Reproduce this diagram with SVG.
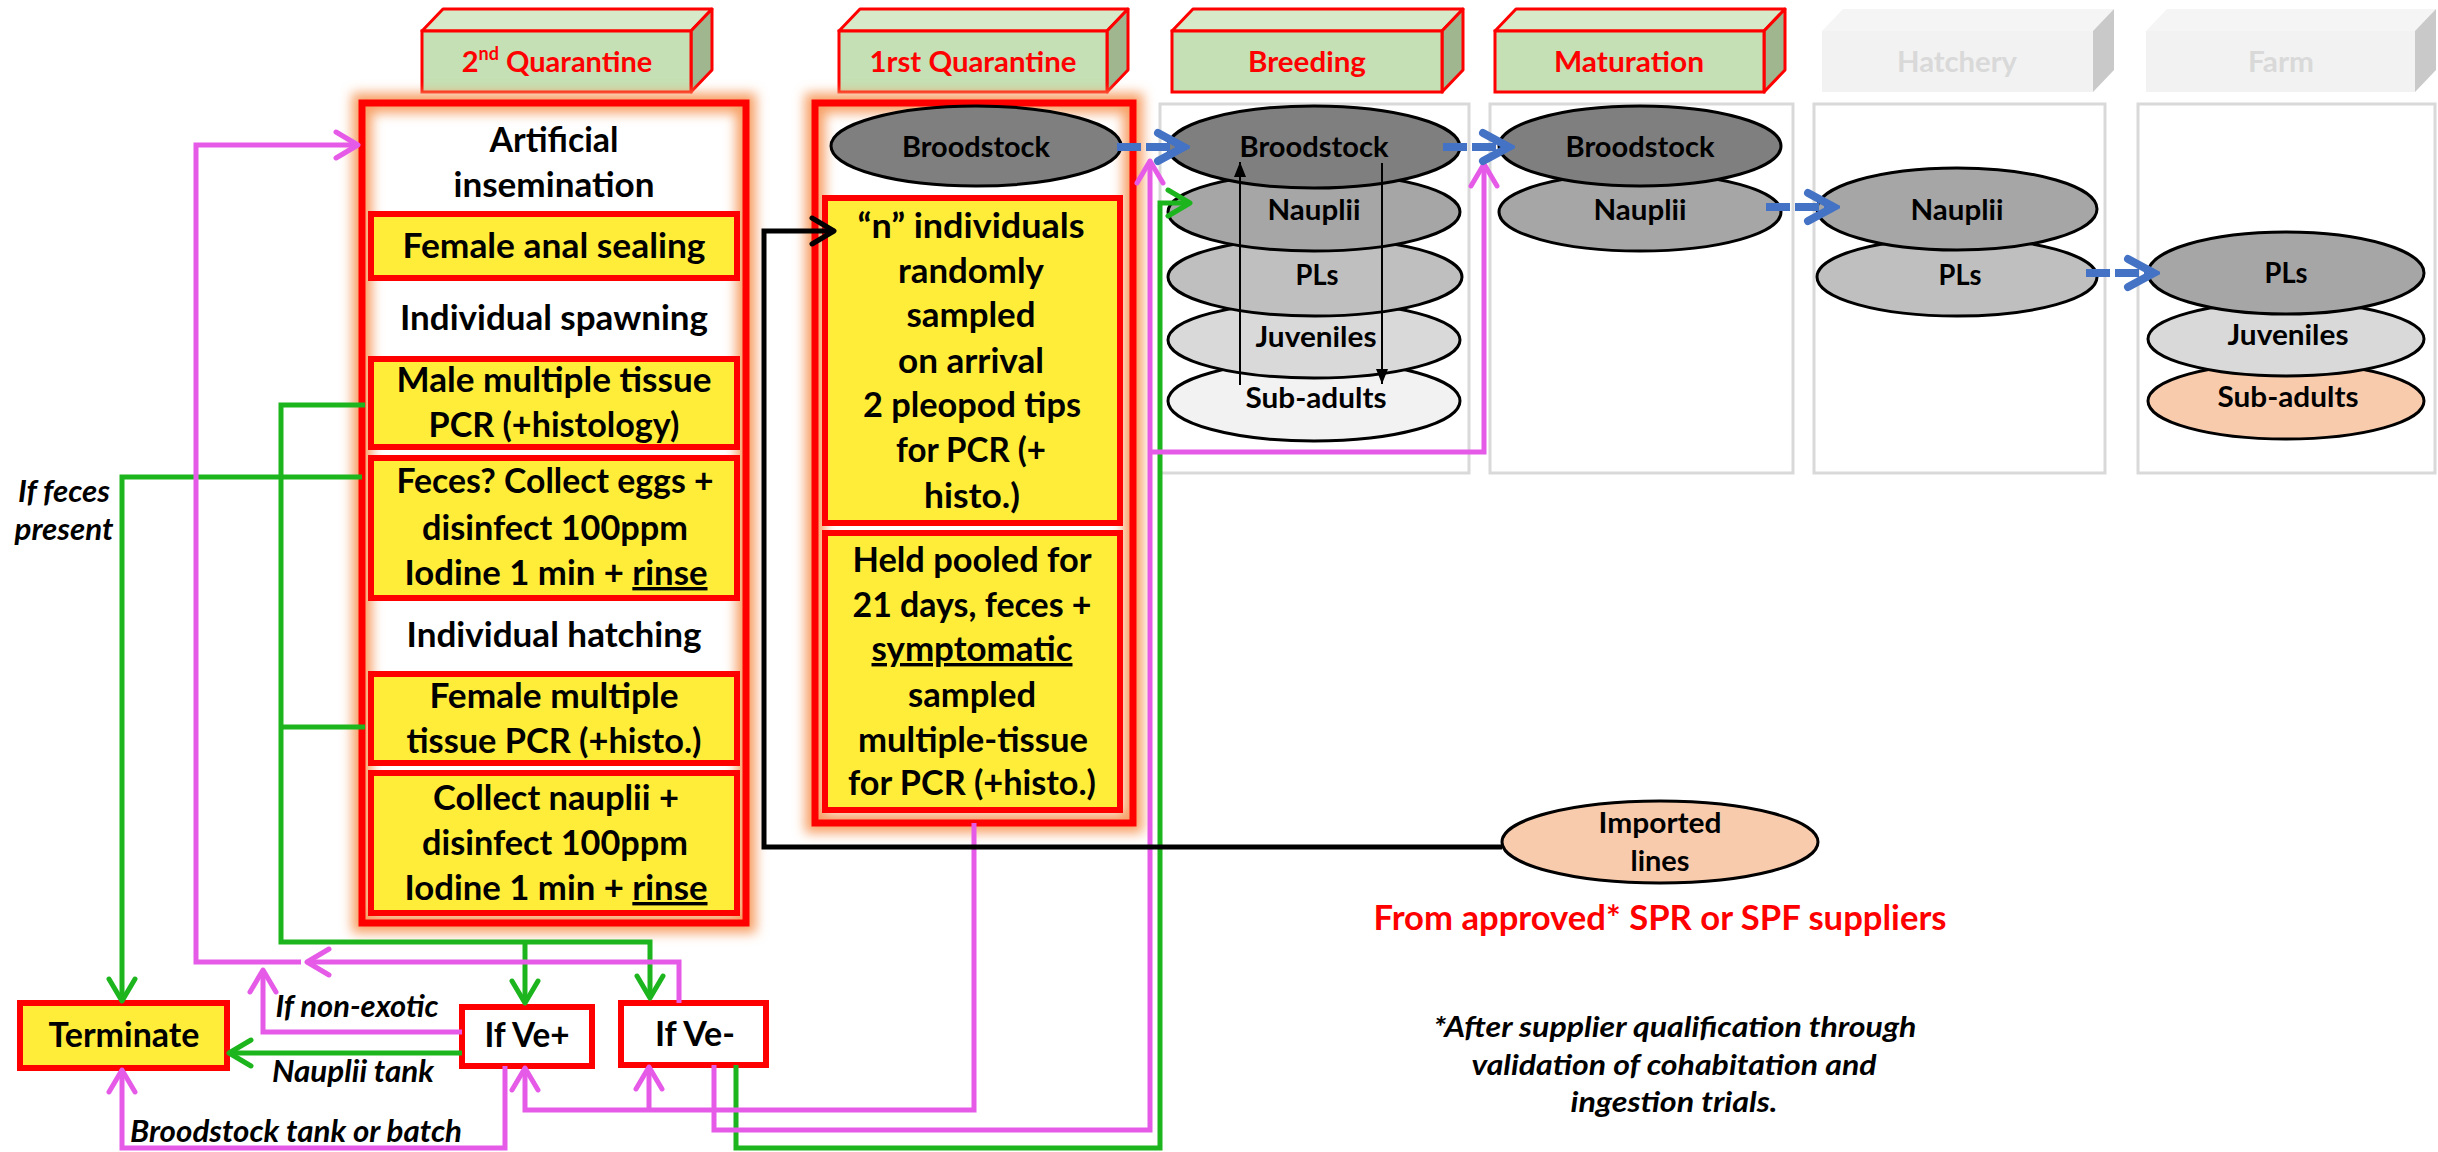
<svg xmlns="http://www.w3.org/2000/svg" width="2438" height="1152" viewBox="0 0 2438 1152">
<defs>
<style>
.t{font-family:Lato,'Liberation Sans',sans-serif;font-weight:bold;fill:#000;text-anchor:middle}
.i{font-family:Lato,'Liberation Sans',sans-serif;font-weight:bold;font-style:italic;fill:#000;text-anchor:middle}
.f34{font-size:34px}
.f30{font-size:30px}
.f29{font-size:29px}
.hdr{font-family:Lato,'Liberation Sans',sans-serif;font-weight:bold;font-size:29px;fill:#ff0000;text-anchor:middle}
.hdrg{font-family:Lato,'Liberation Sans',sans-serif;font-weight:bold;font-size:29px;fill:#d9d9d9;text-anchor:middle}
.front{fill:#c5e0b4;stroke:#ff0000;stroke-width:3}
.top{fill:#d6e9c9;stroke:#ff0000;stroke-width:3;stroke-linejoin:round}
.side{fill:#9fb68f;stroke:#ff0000;stroke-width:3;stroke-linejoin:round}
.gfront{fill:#f2f2f2}
.gtop{fill:#f5f5f5}
.gside{fill:#c9c9c9}
.frame{fill:none;stroke:#ff0000;stroke-width:7}
.glow{fill:none;stroke:#f7a066;stroke-width:20;filter:url(#blur)}
.ybox{fill:#ffed3a;stroke:#ff0000;stroke-width:6}
.wbox{fill:#fff;stroke:#ff0000;stroke-width:6}
.gframe{fill:none;stroke:#d9d9d9;stroke-width:3}
.el{stroke:#000;stroke-width:3}
.gr{fill:none;stroke:#1db51d;stroke-width:5}
.mg{fill:none;stroke:#e65ae8;stroke-width:5}
.bk{fill:none;stroke:#000;stroke-width:5}
.thin{fill:none;stroke:#000;stroke-width:2}
.bl{fill:none;stroke:#4472c4;stroke-width:8;stroke-dasharray:24 5}
</style>
<filter id="blur" x="-20%" y="-20%" width="140%" height="140%"><feGaussianBlur stdDeviation="6"/></filter>
<marker id="aG" markerUnits="userSpaceOnUse" markerWidth="30" markerHeight="32" viewBox="0 0 30 32" refX="27" refY="16" orient="auto"><path d="M5,3 L27,16 L5,29" fill="none" stroke="#1db51d" stroke-width="5" stroke-linecap="round" stroke-linejoin="round"/></marker>
<marker id="aM" markerUnits="userSpaceOnUse" markerWidth="30" markerHeight="32" viewBox="0 0 30 32" refX="27" refY="16" orient="auto"><path d="M5,3 L27,16 L5,29" fill="none" stroke="#e65ae8" stroke-width="5" stroke-linecap="round" stroke-linejoin="round"/></marker>
<marker id="aK" markerUnits="userSpaceOnUse" markerWidth="30" markerHeight="32" viewBox="0 0 30 32" refX="27" refY="16" orient="auto"><path d="M5,3 L27,16 L5,29" fill="none" stroke="#000" stroke-width="5" stroke-linecap="round" stroke-linejoin="round"/></marker>
<marker id="aB" markerUnits="userSpaceOnUse" markerWidth="40" markerHeight="40" viewBox="0 0 40 40" refX="34" refY="20" orient="auto"><path d="M8,6 L34,20 L8,34" fill="none" stroke="#4472c4" stroke-width="8" stroke-linecap="round" stroke-linejoin="miter"/></marker>
<marker id="aT" markerUnits="userSpaceOnUse" markerWidth="16" markerHeight="14" viewBox="0 0 16 14" refX="15" refY="7" orient="auto"><path d="M0,1 L15,7 L0,13 Z" fill="#000"/></marker>
</defs>
<rect width="2438" height="1152" fill="#fff"/>

<!-- Headers -->
<g id="hdr-2q">
<polygon class="top" points="422,31 443,9 712,9 691,31"/>
<polygon class="side" points="691,31 712,9 712,70 691,92"/>
<rect class="front" x="422" y="31" width="269" height="61"/>
<text class="hdr" x="557" y="72">2<tspan font-size="18" dy="-12">nd</tspan><tspan dy="12"> Quarantine</tspan></text>
</g>
<g id="hdr-1q">
<polygon class="top" points="839,31 860,9 1128,9 1107,31"/>
<polygon class="side" points="1107,31 1128,9 1128,70 1107,92"/>
<rect class="front" x="839" y="31" width="268" height="61"/>
<text class="hdr" x="973" y="72" textLength="207" lengthAdjust="spacingAndGlyphs">1rst Quarantine</text>
</g>
<g id="hdr-breeding">
<polygon class="top" points="1172,31 1193,9 1463,9 1442,31"/>
<polygon class="side" points="1442,31 1463,9 1463,70 1442,92"/>
<rect class="front" x="1172" y="31" width="270" height="61"/>
<text class="hdr" x="1307" y="72" textLength="118" lengthAdjust="spacingAndGlyphs">Breeding</text>
</g>
<g id="hdr-maturation">
<polygon class="top" points="1495,31 1516,9 1785,9 1764,31"/>
<polygon class="side" points="1764,31 1785,9 1785,70 1764,92"/>
<rect class="front" x="1495" y="31" width="269" height="61"/>
<text class="hdr" x="1629" y="72" textLength="150" lengthAdjust="spacingAndGlyphs">Maturation</text>
</g>
<g id="hdr-hatchery">
<polygon class="gtop" points="1822,31 1843,9 2114,9 2093,31"/>
<polygon class="gside" points="2093,31 2114,9 2114,70 2093,92"/>
<rect class="gfront" x="1822" y="31" width="271" height="61"/>
<text class="hdrg" x="1957" y="72" textLength="120" lengthAdjust="spacingAndGlyphs">Hatchery</text>
</g>
<g id="hdr-farm">
<polygon class="gtop" points="2146,31 2167,9 2436,9 2415,31"/>
<polygon class="gside" points="2415,31 2436,9 2436,70 2415,92"/>
<rect class="gfront" x="2146" y="31" width="269" height="61"/>
<text class="hdrg" x="2281" y="72" textLength="66" lengthAdjust="spacingAndGlyphs">Farm</text>
</g>

<!-- Gray stage frames -->
<g id="frame-breeding"><rect class="gframe" x="1160" y="104" width="309" height="369"/></g>
<g id="frame-maturation"><rect class="gframe" x="1490" y="104" width="303" height="369"/></g>
<g id="frame-hatchery"><rect class="gframe" x="1814" y="104" width="291" height="369"/></g>
<g id="frame-farm"><rect class="gframe" x="2138" y="104" width="297" height="369"/></g>

<!-- 2nd Quarantine -->
<g id="q2">
<rect class="glow" x="362" y="103" width="384" height="820"/>
<rect class="frame" x="362" y="103" width="384" height="820"/>
<text class="t f34" x="554" y="152" textLength="129" lengthAdjust="spacingAndGlyphs">Artificial</text>
<text class="t f34" x="554" y="197" textLength="201" lengthAdjust="spacingAndGlyphs">insemination</text>
<rect class="ybox" x="371" y="214" width="366" height="64"/>
<text class="t f34" x="554" y="258" textLength="303" lengthAdjust="spacingAndGlyphs">Female anal sealing</text>
<text class="t f34" x="554" y="330" textLength="308" lengthAdjust="spacingAndGlyphs">Individual spawning</text>
<rect class="ybox" x="371" y="359" width="366" height="88"/>
<text class="t f34" x="554" y="392" textLength="315" lengthAdjust="spacingAndGlyphs">Male multiple tissue</text>
<text class="t f34" x="554" y="437" textLength="251" lengthAdjust="spacingAndGlyphs">PCR (+histology)</text>
<rect class="ybox" x="371" y="458" width="366" height="140"/>
<text class="t f34" x="555" y="493" textLength="317" lengthAdjust="spacingAndGlyphs">Feces? Collect eggs +</text>
<text class="t f34" x="555" y="540" textLength="266" lengthAdjust="spacingAndGlyphs">disinfect 100ppm</text>
<text class="t f34" x="556" y="585" textLength="303" lengthAdjust="spacingAndGlyphs">Iodine 1 min + <tspan text-decoration="underline">rinse</tspan></text>
<text class="t f34" x="554" y="647" textLength="295" lengthAdjust="spacingAndGlyphs">Individual hatching</text>
<rect class="ybox" x="371" y="674" width="366" height="89"/>
<text class="t f34" x="554" y="708" textLength="249" lengthAdjust="spacingAndGlyphs">Female multiple</text>
<text class="t f34" x="554" y="753" textLength="295" lengthAdjust="spacingAndGlyphs">tissue PCR (+histo.)</text>
<rect class="ybox" x="371" y="773" width="366" height="140"/>
<text class="t f34" x="556" y="810" textLength="246" lengthAdjust="spacingAndGlyphs">Collect nauplii +</text>
<text class="t f34" x="555" y="855" textLength="266" lengthAdjust="spacingAndGlyphs">disinfect 100ppm</text>
<text class="t f34" x="556" y="900" textLength="303" lengthAdjust="spacingAndGlyphs">Iodine 1 min + <tspan text-decoration="underline">rinse</tspan></text>
</g>

<!-- 1st Quarantine -->
<g id="q1">
<rect class="glow" x="815" y="103" width="318" height="720"/>
<rect class="frame" x="815" y="103" width="318" height="720"/>
<ellipse class="el" cx="976" cy="146" rx="145" ry="40" fill="#7f7f7f"/>
<text class="t f29" x="976" y="157" textLength="148" lengthAdjust="spacingAndGlyphs">Broodstock</text>
<rect class="ybox" x="825" y="198" width="295" height="325"/>
<text class="t f34" x="971" y="238" textLength="227" lengthAdjust="spacingAndGlyphs">“n” individuals</text>
<text class="t f34" x="971" y="283" textLength="146" lengthAdjust="spacingAndGlyphs">randomly</text>
<text class="t f34" x="971" y="327" textLength="129" lengthAdjust="spacingAndGlyphs">sampled</text>
<text class="t f34" x="971" y="373" textLength="146" lengthAdjust="spacingAndGlyphs">on arrival</text>
<text class="t f34" x="972" y="417" textLength="218" lengthAdjust="spacingAndGlyphs">2 pleopod tips</text>
<text class="t f34" x="971" y="462" textLength="150" lengthAdjust="spacingAndGlyphs">for PCR (+</text>
<text class="t f34" x="972" y="508" textLength="96" lengthAdjust="spacingAndGlyphs">histo.)</text>
<rect class="ybox" x="825" y="533" width="295" height="277"/>
<text class="t f34" x="972" y="572" textLength="239" lengthAdjust="spacingAndGlyphs">Held pooled for</text>
<text class="t f34" x="972" y="617" textLength="239" lengthAdjust="spacingAndGlyphs">21 days, feces +</text>
<text class="t f34" x="972" y="661" textLength="201" lengthAdjust="spacingAndGlyphs" text-decoration="underline">symptomatic</text>
<text class="t f34" x="972" y="707" textLength="128" lengthAdjust="spacingAndGlyphs">sampled</text>
<text class="t f34" x="973" y="752" textLength="230" lengthAdjust="spacingAndGlyphs">multiple-tissue</text>
<text class="t f34" x="972" y="795" textLength="248" lengthAdjust="spacingAndGlyphs">for PCR (+histo.)</text>
</g>

<!-- Breeding ellipses -->
<g id="breeding">
<ellipse class="el" cx="1314" cy="401" rx="146" ry="40" fill="#f2f2f2"/>
<ellipse class="el" cx="1314" cy="340" rx="146" ry="38" fill="#d9d9d9"/>
<ellipse class="el" cx="1315" cy="277" rx="147" ry="39" fill="#bfbfbf"/>
<ellipse class="el" cx="1314" cy="212" rx="146" ry="39" fill="#a6a6a6"/>
<ellipse class="el" cx="1314" cy="147" rx="146" ry="41" fill="#7f7f7f"/>
<text class="t f29" x="1314" y="157" textLength="149" lengthAdjust="spacingAndGlyphs">Broodstock</text>
<text class="t f29" x="1314" y="220" textLength="93" lengthAdjust="spacingAndGlyphs">Nauplii</text>
<text class="t f29" x="1317" y="285" textLength="43" lengthAdjust="spacingAndGlyphs">PLs</text>
<text class="t f29" x="1316" y="347" textLength="121" lengthAdjust="spacingAndGlyphs">Juveniles</text>
<text class="t f29" x="1316" y="408" textLength="141" lengthAdjust="spacingAndGlyphs">Sub-adults</text>
<path class="thin" d="M1240,385 V162" marker-end="url(#aT)"/>
<path class="thin" d="M1382,163 V384" marker-end="url(#aT)"/>
</g>

<g id="maturation">
<ellipse class="el" cx="1640" cy="212" rx="141" ry="39" fill="#a6a6a6"/>
<ellipse class="el" cx="1640" cy="146" rx="141" ry="40" fill="#7f7f7f"/>
<text class="t f29" x="1640" y="157" textLength="149" lengthAdjust="spacingAndGlyphs">Broodstock</text>
<text class="t f29" x="1640" y="220" textLength="93" lengthAdjust="spacingAndGlyphs">Nauplii</text>
</g>

<g id="hatchery">
<ellipse class="el" cx="1957" cy="277" rx="140" ry="39" fill="#bfbfbf"/>
<ellipse class="el" cx="1957" cy="209" rx="140" ry="41" fill="#a6a6a6"/>
<text class="t f29" x="1957" y="220" textLength="93" lengthAdjust="spacingAndGlyphs">Nauplii</text>
<text class="t f29" x="1960" y="285" textLength="43" lengthAdjust="spacingAndGlyphs">PLs</text>
</g>

<g id="farm">
<ellipse class="el" cx="2286" cy="401" rx="138" ry="38" fill="#f8cbad"/>
<ellipse class="el" cx="2286" cy="339" rx="138" ry="37" fill="#d9d9d9"/>
<ellipse class="el" cx="2286" cy="273" rx="138" ry="41" fill="#a6a6a6"/>
<text class="t f29" x="2286" y="283" textLength="43" lengthAdjust="spacingAndGlyphs">PLs</text>
<text class="t f29" x="2288" y="345" textLength="121" lengthAdjust="spacingAndGlyphs">Juveniles</text>
<text class="t f29" x="2288" y="407" textLength="141" lengthAdjust="spacingAndGlyphs">Sub-adults</text>
</g>

<g id="imported">
<ellipse class="el" cx="1660" cy="842" rx="158" ry="41" fill="#f8cbad"/>
<text class="t f29" x="1660" y="833" textLength="123" lengthAdjust="spacingAndGlyphs">Imported</text>
<text class="t f29" x="1660" y="871" textLength="59" lengthAdjust="spacingAndGlyphs">lines</text>
</g>

<!-- Decision nodes -->
<g id="terminate">
<rect class="ybox" x="20" y="1003" width="207" height="65"/>
<text class="t f34" x="124" y="1047" textLength="151" lengthAdjust="spacingAndGlyphs">Terminate</text>
</g>
<g id="ifvepos">
<rect class="wbox" x="462" y="1007" width="130" height="59"/>
<text class="t f34" x="527" y="1047" textLength="85" lengthAdjust="spacingAndGlyphs">If Ve+</text>
</g>
<g id="ifveneg">
<rect class="wbox" x="621" y="1003" width="145" height="62"/>
<text class="t f34" x="695" y="1046" textLength="80" lengthAdjust="spacingAndGlyphs">If Ve-</text>
</g>

<!-- Connectors -->
<g id="connectors">
<path class="gr" d="M362,477 H122 V1001" marker-end="url(#aG)"/>
<path class="gr" d="M365,405 H281 V942 H650 V998" marker-end="url(#aG)"/>
<path class="gr" d="M365,727 H281"/>
<path class="gr" d="M525,942 V1003" marker-end="url(#aG)"/>
<path class="gr" d="M462,1053 H229" marker-end="url(#aG)"/>
<path class="gr" d="M736,1065 V1148 H1160 V203 H1190" marker-end="url(#aG)"/>

<path class="mg" d="M679,1003 V962 H307" marker-end="url(#aM)"/>
<path class="mg" d="M301,962 H196 V145 H358" marker-end="url(#aM)"/>
<path class="mg" d="M462,1032 H263 V970" marker-end="url(#aM)"/>
<path class="mg" d="M505,1066 V1148 H122 V1070" marker-end="url(#aM)"/>
<path class="mg" d="M974,823 V1110 H525 V1068" marker-end="url(#aM)"/>
<path class="mg" d="M649,1110 V1067" marker-end="url(#aM)"/>
<path class="mg" d="M714,1065 V1130 H1150 V161" marker-end="url(#aM)"/>
<path class="mg" d="M1150,452 H1484 V164" marker-end="url(#aM)"/>

<path class="bk" d="M1502,847 H764 V231 H834" marker-end="url(#aK)"/>

<path class="bl" d="M1117,147 H1184" marker-end="url(#aB)"/>
<path class="bl" d="M1443,147 H1509" marker-end="url(#aB)"/>
<path class="bl" d="M1766,207 H1834" marker-end="url(#aB)"/>
<path class="bl" d="M2086,273 H2154" marker-end="url(#aB)"/>
</g>

<!-- Labels -->
<g id="labels">
<text class="i f30" x="64" y="502" textLength="92" lengthAdjust="spacingAndGlyphs">If feces</text>
<text class="i f30" x="64" y="540" textLength="99" lengthAdjust="spacingAndGlyphs">present</text>
<text class="i f30" x="357" y="1017" textLength="163" lengthAdjust="spacingAndGlyphs">If non-exotic</text>
<text class="i f30" x="353" y="1082" textLength="162" lengthAdjust="spacingAndGlyphs">Nauplii tank</text>
<text class="i f30" x="296" y="1142" textLength="332" lengthAdjust="spacingAndGlyphs">Broodstock tank or batch</text>
<text class="t f34" x="1660" y="930" style="fill:#ff0000" textLength="573" lengthAdjust="spacingAndGlyphs">From approved* SPR or SPF suppliers</text>
<text class="i f29" x="1675" y="1037" textLength="483" lengthAdjust="spacingAndGlyphs">*After supplier qualification through</text>
<text class="i f29" x="1674" y="1075" textLength="405" lengthAdjust="spacingAndGlyphs">validation of cohabitation and</text>
<text class="i f29" x="1674" y="1112" textLength="207" lengthAdjust="spacingAndGlyphs">ingestion trials.</text>
</g>
</svg>
